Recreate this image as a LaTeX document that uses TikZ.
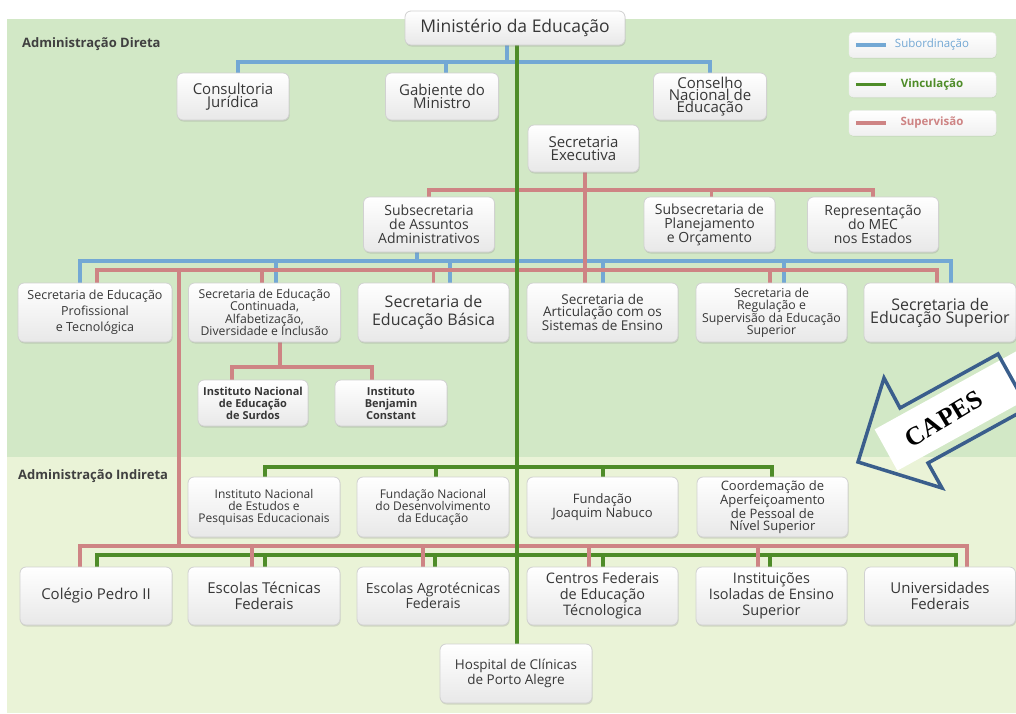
\documentclass[tikz,border=0pt]{standalone}
\usepackage{fontspec}
\setmainfont{Open Sans}
\newfontfamily\capesfont{Liberation Serif}
\usetikzlibrary{shadows,calc}
\definecolor{bgA}{RGB}{210,232,198}
\definecolor{bgB}{RGB}{234,243,215}
\definecolor{lblue}{RGB}{115,168,212}
\definecolor{lgreen}{RGB}{78,140,40}
\definecolor{lred}{RGB}{206,132,132}
\definecolor{txt}{RGB}{55,55,55}
\definecolor{capesblue}{RGB}{58,94,140}
\pgfdeclarelayer{bg}\pgfdeclarelayer{lines}\pgfsetlayers{bg,lines,main}
\newcommand\fsz[2]{\fontsize{#1}{#2}\selectfont}
\tikzset{
 box/.style={rectangle, rounded corners=6pt, draw=black!18, line width=0.8pt,
   top color=white, bottom color=black!9, align=center, text=txt, inner sep=1pt,
   drop shadow={shadow xshift=0.6pt, shadow yshift=-1.5pt, opacity=0.25}},
 legbox/.style={rectangle, rounded corners=4pt, draw=black!6, line width=0.5pt,
   top color=white, bottom color=black!6, minimum width=147pt, minimum height=25pt,
   drop shadow={shadow xshift=0.5pt, shadow yshift=-1pt, opacity=0.15}},
 sub/.style={draw=lblue, line width=3.2pt},
 vin/.style={draw=lgreen, line width=3.4pt},
 sup/.style={draw=lred, line width=3.2pt},
 seclabel/.style={font=\bfseries\fsz{13}{13}, text=black!75, anchor=west, inner sep=0pt},
}
\newcommand\mkbox[7]{\node[box, minimum width=#4pt, minimum height=#5pt, font=#6] (#1) at (#2,#3) {#7};}
\begin{document}
\begin{tikzpicture}[x=1pt,y=-1pt]
\useasboundingbox (0,0) rectangle (1016,713);
\begin{pgfonlayer}{bg}
\fill[white] (0,0) rectangle (1016,713);
\fill[bgA] (7,19) rectangle (1016,457);
\fill[bgB] (7,457) rectangle (1016,713);
\end{pgfonlayer}

\node[seclabel] (ad) at (22,44) {Administração Direta};
\node[seclabel] (ai) at (18,476) {Administração Indireta};

% legend
\node[legbox] (lg1) at (922.5,45) {};
\node[legbox] (lg2) at (922.5,84.5) {};
\node[legbox] (lg3) at (922.5,123) {};
\node[font=\fsz{11.5}{12}, text=lblue, inner sep=0pt] (lt1) at (932,45) {Subordinação};
\node[font=\bfseries\fsz{11.5}{12}, text=lgreen, inner sep=0pt] (lt2) at (932,84.5) {Vinculação};
\node[font=\bfseries\fsz{11.5}{12}, text=lred, inner sep=0pt] (lt3) at (932,123) {Supervisão};
\draw[sub] ([xshift=7pt]lg1.west) -- ([xshift=37pt]lg1.west);
\draw[vin] ([xshift=7pt]lg2.west) -- ([xshift=37pt]lg2.west);
\draw[sup] ([xshift=7pt]lg3.west) -- ([xshift=37pt]lg3.west);

% boxes
\mkbox{min}{515}{28}{220}{34}{\fsz{17.5}{20}}{Ministério da Educação}
\mkbox{cj}{233}{96.5}{112}{47}{\fsz{15}{12.5}}{Consultoria\\Jurídica}
\mkbox{gab}{442}{96.5}{113}{47}{\fsz{15}{12.5}}{Gabiente do\\Ministro}
\mkbox{cne}{710}{96.5}{113}{47}{\fsz{15}{12}}{Conselho\\Nacional de\\Educação}
\mkbox{se}{583.5}{148.5}{111}{47}{\fsz{15}{12.5}}{Secretaria\\Executiva}
\mkbox{ssa}{429}{224.5}{131}{55}{\fsz{14}{14}}{Subsecretaria\\de Assuntos\\Administrativos}
\mkbox{ssp}{709.5}{224.5}{131}{55}{\fsz{14}{14}}{Subsecretaria de\\Planejamento\\e Orçamento}
\mkbox{rep}{873}{224.5}{131}{55}{\fsz{14}{14}}{Representação\\do MEC\\nos Estados}

\mkbox{sep}{95}{312.5}{154}{59}{\fsz{12.5}{16}}{Secretaria de Educação\\Profissional\\e Tecnológica}
\mkbox{scont}{264.5}{312.5}{152}{59}{\fsz{12.2}{12.3}}{Secretaria de Educação\\Continuada,\\Alfabetização,\\Diversidade e Inclusão}
\mkbox{sbas}{433.5}{312.5}{151}{59}{\fsz{16}{18}}{Secretaria de\\Educação Básica}
\mkbox{sart}{602.5}{312.5}{151}{59}{\fsz{13.5}{12}}{Secretaria de\\Articulação com os\\Sistemas de Ensino}
\mkbox{sreg}{771.5}{312.5}{151}{59}{\fsz{12.3}{12}}{Secretaria de\\Regulação e\\Supervisão da Educação\\Superior}
\mkbox{ssup}{940}{312.5}{152}{59}{\fsz{16}{13}}{Secretaria de\\Educação Superior}

\mkbox{surdos}{253}{403}{110}{46}{\bfseries\fsz{11}{12}}{Instituto Nacional\\de Educação\\de Surdos}
\mkbox{ibc}{391}{403}{112}{46}{\bfseries\fsz{11}{12}}{Instituto\\Benjamin\\Constant}

\mkbox{inep}{264}{507}{152}{60}{\fsz{12}{12}}{Instituto Nacional\\de Estudos e\\Pesquisas Educacionais}
\mkbox{fnde}{433}{507}{152}{60}{\fsz{12}{12}}{Fundação Nacional\\do Desenvolvimento\\da Educação}
\mkbox{fjn}{602.5}{507}{151}{60}{\fsz{13}{12}}{Fundação\\Joaquim Nabuco}
\mkbox{capes}{772.5}{507}{151}{60}{\fsz{13}{11.5}}{Coordemação de\\Aperfeiçoamento\\de Pessoal de\\Nível Superior}

\mkbox{cp}{96}{596}{152}{58}{\fsz{15}{16}}{Colégio Pedro II}
\mkbox{etf}{264}{596}{152}{58}{\fsz{15}{16}}{Escolas Técnicas\\Federais}
\mkbox{eaf}{433}{596}{152}{58}{\fsz{14}{12.5}}{Escolas Agrotécnicas\\Federais}
\mkbox{cefet}{602.5}{596}{151}{58}{\fsz{14.5}{16}}{Centros Federais\\de Educação\\Técnologica}
\mkbox{iies}{771.5}{596}{151}{58}{\fsz{14.5}{16}}{Instituições\\Isoladas de Ensino\\Superior}
\mkbox{uf}{940}{596}{151}{58}{\fsz{15}{16}}{Universidades\\Federais}

\mkbox{hosp}{516}{673.5}{152}{59}{\fsz{13.5}{12}}{Hospital de Clínicas\\de Porto Alegre}

% connectors
\begin{pgfonlayer}{lines}
\coordinate (busA) at (0,62);
\coordinate (busB) at (0,190);
\coordinate (busC) at (0,261);
\coordinate (busR) at (0,270);
\coordinate (busD) at (0,367);
\coordinate (busF) at (0,467);
\coordinate (busE) at (0,546);
\coordinate (busG) at (0,555);
% subordination (blue)
\coordinate (minB) at ([xshift=-8pt]min.south);
\coordinate (cjT) at ([xshift=5pt]cj.north);
\coordinate (gabT) at ([xshift=4pt]gab.north);
\draw[sub] (cjT) -- (cjT |- busA) -- (cne.north |- busA) -- (cne.north);
\draw[sub] (minB) -- (minB |- busA);
\draw[sub] (gabT) -- (gabT |- busA);
\coordinate (ssaB) at ([xshift=-12pt]ssa.south);
\coordinate (b1) at ([xshift=-15pt]sep.north);
\coordinate (b2) at ([xshift=11.5pt]scont.north);
\coordinate (b3) at ([xshift=16.5pt]sbas.north);
\coordinate (b4) at ([xshift=0.5pt]sart.north);
\coordinate (b5) at ([xshift=12.5pt]sreg.north);
\coordinate (b6) at ([xshift=11pt]ssup.north);
\draw[sub] (b1) -- (b1 |- busC) -- (b6 |- busC) -- (b6);
\draw[sub] (ssaB) -- (ssaB |- busC);
\foreach \p in {b2,b3,b4,b5} \draw[sub] (\p) -- (\p |- busC);
% supervision (red)
\coordinate (seB) at ([xshift=1.5pt]se.south);
\coordinate (sspT) at ([xshift=2pt]ssp.north);
\draw[sup] (ssa.north) -- (ssa.north |- busB) -- (rep.north |- busB) -- (rep.north);
\draw[sup] (sspT) -- (sspT |- busB);
\draw[sup] (seB) -- (seB |- busR);
\coordinate (r1) at ([xshift=2pt]sep.north);
\coordinate (r2) at ([xshift=-2.5pt]scont.north);
\coordinate (r3) at (sbas.north);
\coordinate (r4) at ([xshift=-17.5pt]sart.north);
\coordinate (r5) at ([xshift=-1.5pt]sreg.north);
\coordinate (r6) at ([xshift=-3pt]ssup.north);
\draw[sup] (r1) -- (r1 |- busR) -- (r6 |- busR) -- (r6);
\foreach \p in {r2,r3,r4,r5} \draw[sup] (\p) -- (\p |- busR);
\coordinate (lv) at (179,270);
\coordinate (scB) at ([xshift=15.5pt]scont.south);
\coordinate (sdT) at ([xshift=-21pt]surdos.north);
\coordinate (ibT) at ([xshift=-19pt]ibc.north);
\draw[sup] (scB) -- (scB |- busD);
\draw[sup] (sdT) -- (sdT |- busD) -- (ibT |- busD) -- (ibT);
% indirect: green row 1
\coordinate (g1) at ([xshift=1pt]inep.north);
\coordinate (g2) at ([xshift=3pt]fnde.north);
\coordinate (g3) at ([xshift=0.5pt]fjn.north);
\coordinate (g4) at ([xshift=-0.5pt]capes.north);
\draw[vin] (g1) -- (g1 |- busF) -- (g4 |- busF) -- (g4);
\foreach \p in {g2,g3} \draw[vin] (\p) -- (\p |- busF);
% row 2 green
\coordinate (h1) at ([xshift=1pt]cp.north);
\coordinate (h2) at ([xshift=1pt]etf.north);
\coordinate (h3) at ([xshift=2pt]eaf.north);
\coordinate (h4) at ([xshift=0.5pt]cefet.north);
\coordinate (h5) at ([xshift=-1.5pt]iies.north);
\coordinate (h6) at ([xshift=16pt]uf.north);
\draw[vin] (h1) -- (h1 |- busG) -- (h6 |- busG) -- (h6);
\foreach \p in {h2,h3,h4,h5} \draw[vin] (\p) -- (\p |- busG);
% row 2 red
\coordinate (s1) at ([xshift=-16pt]cp.north);
\coordinate (s2) at ([xshift=-12pt]etf.north);
\coordinate (s3) at ([xshift=-10pt]eaf.north);
\coordinate (s4) at ([xshift=-13.5pt]cefet.north);
\coordinate (s5) at ([xshift=-13.5pt]iies.north);
\coordinate (s6) at ([xshift=27pt]uf.north);
\draw[sup] (s1) -- (s1 |- busE) -- (s6 |- busE) -- (s6);
\foreach \p in {s2,s3,s4,s5} \draw[sup] (\p) -- (\p |- busE);
\draw[sup] (lv) -- (lv |- busE);
% main green spine
\draw[vin] ([xshift=2pt]min.south) -- ([xshift=1pt]hosp.north);
\end{pgfonlayer}

% CAPES arrow
\begin{scope}
\clip (0,0) rectangle (1016,713);
\fill[white] (874.6,429.4) -- (1049.8,332.8) -- (1072.6,374) -- (897.4,470.6) -- cycle;
\draw[capesblue, line width=3.5pt, line join=miter]
  (858,462) -- (884,378) -- (900,408) -- (998,354) -- (1028,408) -- (928,463) -- (942,488) -- cycle;
\end{scope}
\node[font=\capesfont\bfseries\fsz{26}{26}, rotate=31, inner sep=0pt] (capeslbl) at (944,419) {CAPES};
\end{tikzpicture}
\end{document}
